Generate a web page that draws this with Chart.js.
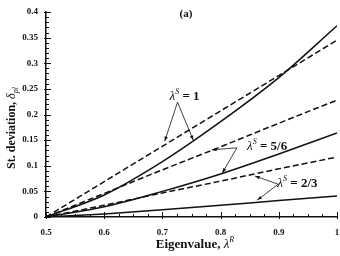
<!DOCTYPE html>
<html>
<head>
<meta charset="utf-8">
<script src="https://cdn.jsdelivr.net/npm/chart.js@4"></script>
<style>
  html, body { margin: 0; padding: 0; background: #fff; }
  #wrap { width: 340px; height: 256px; }
</style>
</head>
<body>
<div id="wrap"><canvas id="chart" width="340" height="256"></canvas></div>
<script>
// --- DATA ---
const eigenR = [0.5, 0.6, 0.7, 0.8, 0.9, 1.0];
const s1Solid = [0, 0.043, 0.108, 0.186, 0.272, 0.373];
const s1Dashed = [0, 0.069, 0.138, 0.207, 0.276, 0.345];
const s56Solid = [0, 0.020, 0.050, 0.084, 0.123, 0.164];
const s56Dashed = [0, 0.046, 0.092, 0.137, 0.183, 0.228];
const s23Solid = [0, 0.006, 0.014, 0.023, 0.032, 0.041];
const s23Dashed = [0, 0.023, 0.047, 0.070, 0.094, 0.117];
const yTicks = [0, 0.05, 0.1, 0.15, 0.2, 0.25, 0.3, 0.35, 0.4];
const xTicks = [0.5, 0.6, 0.7, 0.8, 0.9, 1];

const SERIF = '"Liberation Serif", "Times New Roman", serif';

const toPts = (ys) => ys.map((v, i) => ({ x: eigenR[i], y: v }));
const lineSet = (label, ys, dashed) => ({
    label,
    data: toPts(ys),
    borderColor: '#111',
    borderWidth: 1.5,
    borderDash: dashed ? [6, 3] : [],
    pointRadius: 0,
    cubicInterpolationMode: 'monotone',
    fill: false
});

// label text + arrow tips, in data units
const notes = [
    { text: '1', at: [0.738, 0.236], from: [0.726, 0.224], to: [[0.704, 0.148], [0.753, 0.150]] },
    { text: '5/6', at: [0.880, 0.139], from: [0.828, 0.135], to: [[0.785, 0.131], [0.803, 0.086]] },
    { text: '2/3', at: [0.932, 0.066], from: [0.899, 0.064], to: [[0.859, 0.080], [0.863, 0.033]] }
];

// draws a run of [text, font, dy] pieces centred on cx
const drawRun = (ctx, parts, cx, cy) => {
    let total = 0;
    parts.forEach(p => { ctx.font = p[1]; total += ctx.measureText(p[0]).width; });
    let x = cx - total / 2;
    ctx.textAlign = 'left';
    parts.forEach(p => {
        ctx.font = p[1];
        ctx.fillText(p[0], x, cy + (p[2] || 0));
        x += ctx.measureText(p[0]).width;
    });
};

// --- custom drawing: inward ticks, titles, annotations ---
const decorPlugin = {
    id: 'decor',
    afterDraw(chart) {
        const ctx = chart.ctx;
        const xs = chart.scales.x, ys = chart.scales.y;
        const area = chart.chartArea;
        ctx.save();
        ctx.strokeStyle = '#111';
        ctx.lineWidth = 1;

        // y ticks: major every 0.05, minor every 0.01
        for (let i = 0; i <= 40; i++) {
            const py = Math.round(ys.getPixelForValue(i / 100)) + 0.5;
            const len = i % 5 === 0 ? 5 : 3;
            ctx.beginPath();
            ctx.moveTo(area.left - (i % 5 === 0 ? 2 : 0), py);
            ctx.lineTo(area.left + len, py);
            ctx.stroke();
        }
        // x ticks: major every 0.1, minor every 0.025
        for (let i = 0; i <= 20; i++) {
            const px = Math.round(xs.getPixelForValue(0.5 + i * 0.025)) + 0.5;
            const len = i % 4 === 0 ? 5 : 3;
            ctx.beginPath();
            ctx.moveTo(px, area.bottom + (i % 4 === 0 ? 2 : 0));
            ctx.lineTo(px, area.bottom - len);
            ctx.stroke();
        }

        ctx.fillStyle = '#111';
        ctx.textBaseline = 'alphabetic';

        // y title
        ctx.save();
        ctx.translate(15, 128);
        ctx.rotate(-Math.PI / 2);
        drawRun(ctx, [
            ['St. deviation, ', 'bold 12px ' + SERIF, 0],
            ['δ', 'italic 12px ' + SERIF, 0],
            ['pl', 'italic 8px ' + SERIF, 3]
        ], 0, 0);
        ctx.restore();

        // x title
        drawRun(ctx, [
            ['Eigenvalue, ', 'bold 13px ' + SERIF, 0],
            ['λ', 'italic 13px ' + SERIF, 0],
            ['R', 'italic 8px ' + SERIF, -6]
        ], 195, 248);

        // panel label
        drawRun(ctx, [['(a)', 'bold 11px ' + SERIF, 0]], 186, 17);

        // annotations
        notes.forEach(n => {
            const cx = xs.getPixelForValue(n.at[0]);
            const cy = ys.getPixelForValue(n.at[1]);
            drawRun(ctx, [
                ['λ', 'italic 13px ' + SERIF, 0],
                ['S', 'italic 8px ' + SERIF, -6],
                [' = ' + n.text, 'bold 13px ' + SERIF, 0]
            ], cx, cy + 4);

            const fx = xs.getPixelForValue(n.from[0]);
            const fy = ys.getPixelForValue(n.from[1]);
            n.to.forEach(t => {
                const ex = xs.getPixelForValue(t[0]);
                const ey = ys.getPixelForValue(t[1]);
                ctx.lineWidth = 0.8;
                ctx.beginPath();
                ctx.moveTo(fx, fy);
                ctx.lineTo(ex, ey);
                ctx.stroke();
                const ang = Math.atan2(ey - fy, ex - fx);
                ctx.beginPath();
                ctx.moveTo(ex, ey);
                ctx.lineTo(ex - 5 * Math.cos(ang - 0.35), ey - 5 * Math.sin(ang - 0.35));
                ctx.lineTo(ex - 5 * Math.cos(ang + 0.35), ey - 5 * Math.sin(ang + 0.35));
                ctx.closePath();
                ctx.fill();
            });
        });
        ctx.restore();
    }
};

new Chart(document.getElementById('chart'), {
    type: 'line',
    data: {
        datasets: [
            lineSet('λS = 1 (solid)', s1Solid, false),
            lineSet('λS = 1 (dashed)', s1Dashed, true),
            lineSet('λS = 5/6 (solid)', s56Solid, false),
            lineSet('λS = 5/6 (dashed)', s56Dashed, true),
            lineSet('λS = 2/3 (solid)', s23Solid, false),
            lineSet('λS = 2/3 (dashed)', s23Dashed, true)
        ]
    },
    options: {
        responsive: false,
        animation: false,
        layout: { padding: { top: 12, right: 3, left: 0, bottom: 0 } },
        plugins: { legend: { display: false }, tooltip: { enabled: false } },
        scales: {
            x: {
                type: 'linear',
                min: 0.5,
                max: 1,
                afterBuildTicks: (s) => { s.ticks = xTicks.map(v => ({ value: v })); },
                afterFit: (s) => { s.height = 39; s.paddingLeft = 0; s.paddingRight = 0; },
                grid: { display: true, drawOnChartArea: false, drawTicks: false },
                border: { display: true, color: '#111', width: 1.5 },
                ticks: {
                    padding: 10,
                    color: '#111',
                    font: { family: SERIF, size: 9, weight: 'bold' },
                    callback: (v) => String(v)
                }
            },
            y: {
                min: 0,
                max: 0.4,
                afterBuildTicks: (s) => { s.ticks = yTicks.map(v => ({ value: v })); },
                afterFit: (s) => { s.width = 46; s.paddingTop = 0; s.paddingBottom = 0; },
                grid: { display: true, drawOnChartArea: false, drawTicks: false },
                border: { display: true, color: '#111', width: 1.5 },
                ticks: {
                    padding: 8,
                    color: '#111',
                    font: { family: SERIF, size: 9, weight: 'bold' },
                    callback: (v) => String(v)
                }
            }
        }
    },
    plugins: [decorPlugin]
});
</script>
</body>
</html>
